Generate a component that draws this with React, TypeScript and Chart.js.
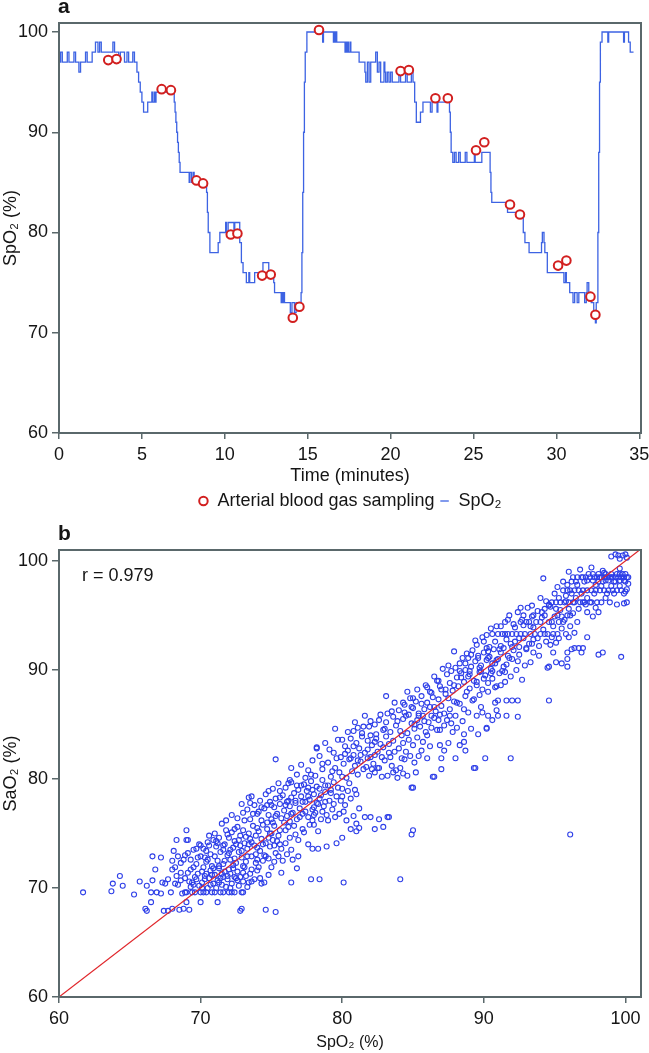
import React, { useEffect, useRef } from 'react';
import { Chart, registerables } from 'chart.js';
Chart.register(...registerables);

// ---------- Panel a data ----------
// SpO2 trace: [minute, SpO2 %] (each level holds until the next point)
const spo2Trace: [number, number][] = [
  [0,97],[0.1,98],[0.2,97],[0.5,98],[0.6,97],[0.9,98],[1.0,97],[1.2,96],[1.3,97],[1.6,98],[1.7,97],[2.0,98],
  [2.2,99],[2.35,98],[2.45,99],[2.55,98],[3.25,99],[3.35,98],[3.6,97],[3.7,98],[3.95,97],[4.1,98],[4.2,97],
  [4.45,98],[4.55,97],[4.7,96],[4.8,95],[4.9,94],[5.0,93],[5.1,92],[5.35,93],[5.6,94],[5.65,93],[5.75,94],
  [5.8,93],[5.85,94],[6.95,93],[7.0,92],[7.05,91],[7.1,90],[7.15,89],[7.2,88],[7.25,87],[7.3,86],[7.85,85],
  [7.9,86],[8.0,85],[8.1,86],[8.15,85],[8.9,84],[8.95,82],[9.0,80],[9.1,78],[9.6,79],[9.7,80],[10.05,81],
  [10.1,80],[10.2,81],[10.55,80],[10.6,81],[10.9,79],[11.0,77],[11.1,76],[11.3,75],[11.45,76],[11.5,75],
  [11.8,76],[12.3,77],[12.65,76],[12.95,75],[13.0,74],[13.4,73],[13.45,74],[13.5,73],[13.55,74],[13.6,73],
  [13.95,72],[14.05,73],[14.2,72],[14.3,73],[14.6,74],[14.65,78],[14.7,84],[14.75,90],[14.8,95],[14.85,98],
  [14.95,100],[15.9,99],[15.95,100],[16.55,99],[16.6,100],[16.65,99],[16.7,100],[16.75,99],[17.25,98],
  [17.3,99],[17.35,98],[17.4,99],[17.45,98],[17.55,99],[17.6,98],[18.1,97],[18.45,96],[18.5,95],[18.6,97],
  [18.7,95],[18.8,97],[19.1,98],[19.2,96],[19.3,97],[19.4,95],[19.6,97],[19.65,96],[19.7,95],[19.8,96],
  [19.9,95],[20.0,96],[20.1,95],[20.5,96],[20.6,95],[20.9,96],[21.0,95],[21.25,96],[21.35,95],[21.45,93],
  [21.55,91],[21.8,92],[21.95,93],[22.4,92],[22.5,93],[22.8,92],[22.85,93],[23.55,92],[23.6,90],[23.65,88],
  [23.75,87],[23.85,88],[23.95,87],[24.1,88],[24.2,87],[24.5,88],[24.6,87],[25.05,88],[25.1,87],[25.5,88],
  [26.0,86],[26.05,84],[26.1,83],[27.05,82],[28.0,80],[28.1,79],[28.35,78],[29.1,79],[29.15,80],[29.25,79],
  [29.3,78],[29.45,76],[30.45,75],[30.55,76],[30.6,75],[30.8,74],[31.0,73],[31.1,74],[31.25,73],[31.35,74],
  [31.7,73],[31.8,74],[31.85,75],[31.95,74],[32.1,73],[32.25,72],[32.35,71],[32.4,73],[32.5,80],[32.55,88],
  [32.6,95],[32.65,99],[32.75,100],[33.1,99],[33.15,100],[34.05,99],[34.1,100],[34.35,99],[34.45,98],[34.65,98]
];

// Arterial blood gas sampling moments: [minute, SpO2 %]
const bloodGasSamples: [number, number][] = [
  [2.97,97.2],[3.47,97.3],[6.19,94.3],[6.75,94.2],[8.29,85.2],[8.69,84.9],[10.36,79.8],[10.76,79.9],
  [12.25,75.7],[12.77,75.8],[14.1,71.5],[14.5,72.6],[15.68,100.2],[20.6,96.1],[21.1,96.2],[22.7,93.4],
  [23.45,93.4],[25.15,88.2],[25.65,89.0],[27.2,82.8],[27.8,81.8],[30.1,76.7],[30.6,77.2],[32.05,73.6],[32.35,71.8]
];

const timeTicks = [0, 5, 10, 15, 20, 25, 30, 35];
const spo2TicksA = [60, 70, 80, 90, 100];

// ---------- Panel b data: [SpO2 %, SaO2 %] ----------
const pairsBelow72: [number, number][] = [
  [61.7,69.6],[63.7,69.7],[63.8,70.4],[64.3,71.1],[64.5,70.2],[65.3,69.4],[65.7,70.6],[66.1,68.1],[66.2,67.9],
  [66.2,70.2],[66.5,68.7],[66.6,70.7],[66.8,71.7],[66.5,69.6],[66.9,69.6],[67.2,69.5],[67.3,70.5],[67.5,70.4],
  [67.7,70.8],[67.4,67.9],[67.7,67.9],[68.0,68.1],[67.9,69.6],[68.0,71.7],[68.2,71.9],[68.3,71.1],[68.4,70.3],
  [68.5,68.0],[68.6,70.7],[68.7,69.5],[68.8,68.1],[68.9,70.9],[69.0,68.7],[69.0,69.6],[69.1,71.4],[69.2,68.0],
  [69.3,70.1],[69.4,70.5],[69.5,71.9],[69.6,69.6],[69.7,70.8],[69.8,71.3],[69.9,70.2],[70.0,68.7],[70.0,69.6],
  [70.1,70.5],[70.2,71.9],[70.3,71.1],[70.4,69.6],[70.5,70.0],[70.6,70.9],[70.7,71.6],[70.8,69.6],[70.9,70.4],
  [71.0,71.2],[71.1,70.0],[71.2,68.7],[71.2,70.7],[71.3,71.8],[71.4,69.6],[71.5,70.3],[71.6,71.0],[71.7,71.5],
  [71.8,70.1],[71.9,70.8],[72.0,69.6],[72.1,71.3],[72.2,70.4],[72.3,71.8],[72.4,69.6],[72.5,70.9],[72.6,71.5],
  [72.8,67.9],[72.9,68.1],[72.9,69.6],[73.0,70.6],[73.1,71.9],[73.3,70.1],[73.5,71.3],[73.6,70.6],[73.8,70.8],
  [74.0,71.6],[74.3,70.4],[74.6,68.0],[74.5,70.5],[74.8,71.2],[75.3,67.8],[75.7,71.4],[76.4,70.5],[76.8,71.8],
  [77.8,70.8],[78.4,70.8],[80.1,70.5],[84.1,70.8],[69.2,70.6],[69.6,71.0],[70.1,70.0],[70.4,71.3],[70.9,71.8],
  [71.3,70.5],[71.9,71.1],[72.4,71.0],[72.7,70.2],[73.2,71.1],[68.9,69.6],[69.4,69.6],[71.0,69.6],[71.6,69.6],
  [72.2,69.6],[73.0,69.6]
];

const pairs72to76: [number, number][] = [
  [66.6,72.9],[67.2,72.8],[68.1,73.4],[68.0,72.5],[68.3,74.4],[69.0,74.4],[69.1,74.4],[68.6,72.3],[68.9,73.0],
  [69.3,72.6],[69.5,73.5],[69.7,72.2],[69.9,74.0],[70.0,72.9],[70.2,73.6],[70.4,72.4],[70.5,74.2],[70.7,73.1],
  [70.9,74.4],[70.8,72.0],[71.0,75.0],[71.1,73.8],[71.2,72.5],[71.3,74.6],[71.4,73.3],[71.5,75.9],[71.6,72.2],
  [71.7,74.0],[71.8,75.3],[71.9,73.0],[72.0,74.6],[72.1,72.6],[72.2,75.1],[72.3,73.7],[72.4,74.3],[72.5,72.3],
  [72.6,75.6],[72.7,73.3],[72.8,74.8],[72.9,72.8],[73.0,75.3],[73.1,74.1],[73.2,72.4],[73.3,73.6],[73.4,75.0],
  [73.5,74.5],[73.6,72.9],[73.7,75.7],[73.8,73.9],[73.9,74.8],[74.0,72.6],[74.1,75.2],[74.2,73.4],[74.3,74.5],
  [74.4,75.8],[74.5,73.0],[74.6,74.1],[74.7,75.4],[74.8,72.7],[74.9,73.8],[75.0,75.0],[75.1,74.4],[75.2,75.7],
  [75.3,73.2],[75.5,74.8],[75.6,75.3],[75.8,72.5],[76.0,74.1],[76.2,75.6],[76.4,73.5],[76.7,74.9],[76.9,72.9],
  [77.2,75.4],[77.6,74.0],[78.0,75.8],[78.3,73.6],[78.9,73.8],[77.9,73.6],[79.6,74.1],[80.0,74.6],[80.6,75.4],
  [81.0,75.2],[81.2,75.5],[81.0,75.9],[82.3,75.4],[82.9,75.6],[84.9,74.9],[85.0,75.3],[96.1,74.9],[70.3,72.8],
  [70.6,73.9],[71.2,74.1],[71.6,73.5],[72.0,73.2],[72.4,72.7],[72.8,73.9],[73.2,74.7],[73.6,74.2],[74.0,73.7],
  [74.4,72.5],[74.8,74.6],[75.2,73.9],[75.6,74.0],[76.1,73.1],[76.5,72.6],[73.0,72.0],[72.5,74.0]
];

const pairs76to80: [number, number][] = [
  [72.9,77.7],[73.4,78.3],[73.6,78.4],[72.6,76.4],[73.0,76.9],[73.3,77.2],[73.5,76.3],[73.8,77.6],[74.0,76.8],
  [74.2,78.0],[74.3,76.2],[74.5,77.3],[74.6,78.6],[74.8,76.7],[74.9,77.9],[75.0,76.3],[75.1,79.1],[75.2,77.4],
  [75.3,78.2],[75.4,76.8],[75.5,79.6],[75.6,77.7],[75.7,76.4],[75.8,78.5],[75.9,77.1],[76.0,79.2],[76.1,76.6],
  [76.2,78.0],[76.3,77.5],[76.4,79.7],[76.5,76.9],[76.6,78.7],[76.7,77.8],[76.8,76.3],[76.9,79.0],[77.0,77.3],
  [77.1,78.4],[77.2,76.8],[77.3,79.5],[77.4,77.9],[77.5,78.9],[77.6,76.5],[77.7,78.1],[77.8,79.8],[77.9,77.2],
  [78.0,78.6],[78.1,76.9],[78.2,79.3],[78.3,77.7],[78.4,78.2],[78.5,76.3],[78.6,79.9],[78.7,77.5],[78.8,78.8],
  [78.9,76.7],[79.0,79.4],[79.1,78.0],[79.3,77.2],[79.4,79.7],[79.6,78.4],[79.8,76.8],[80.0,79.1],[80.2,77.6],
  [80.5,79.6],[80.1,77.0],[80.6,78.2],[80.8,76.6],[81.2,77.3],[81.6,76.5],[82.0,76.5],[82.6,76.3],[83.2,76.5],
  [83.3,76.5],[81.0,78.6],[84.9,79.2],[85.0,79.2],[80.9,79.0],[74.1,77.0],[74.7,77.6],[75.1,76.0],[75.6,78.9],
  [76.0,77.6],[76.4,78.3],[76.8,79.4],[77.2,77.9],[77.6,79.2],[78.0,77.4],[78.4,79.1],[78.8,77.9],[79.2,78.7],
  [79.5,76.5],[76.3,76.1],[77.9,76.2],[79.9,78.0]
];

const pairs80to84: [number, number][] = [
  [75.3,81.8],[76.4,81.0],[76.3,79.9],[77.4,80.1],[78.2,82.9],[78.2,82.8],[76.8,80.4],[77.1,81.3],[77.6,80.8],
  [77.9,81.7],[78.1,80.3],[78.4,82.1],[78.6,80.9],[78.8,83.3],[79.0,81.5],[79.2,80.2],[79.4,82.4],[79.5,81.0],
  [79.7,83.6],[79.8,80.6],[79.9,82.0],[80.1,81.4],[80.2,83.0],[80.3,80.1],[80.4,82.6],[80.5,81.8],[80.6,83.7],
  [80.7,80.7],[80.8,82.2],[80.9,81.2],[81.0,83.3],[81.1,80.4],[81.2,82.8],[81.3,81.6],[81.4,83.9],[81.5,80.9],
  [81.6,82.4],[81.7,81.1],[81.8,83.5],[81.9,80.3],[82.0,82.0],[82.1,83.1],[82.2,81.4],[82.3,80.6],[82.4,83.7],
  [82.5,82.5],[82.6,81.0],[82.7,83.2],[82.8,80.2],[82.9,82.9],[83.0,81.7],[83.1,83.9],[83.2,80.3],[83.3,82.4],
  [83.5,81.2],[83.6,83.5],[83.8,80.8],[84.0,82.8],[84.1,81.0],[84.3,83.3],[84.6,80.3],[84.8,82.1],[85.1,81.5],
  [85.4,82.1],[85.7,83.4],[86.0,81.9],[86.4,80.2],[86.5,80.2],[86.9,83.1],[87.0,81.9],[87.0,80.9],[87.2,82.6],
  [88.0,81.9],[88.3,83.1],[88.7,82.6],[89.3,81.0],[89.4,81.0],[90.1,81.9],[91.9,81.9],[84.2,81.9],[83.9,80.1],
  [85.2,80.6],[79.3,80.7],[80.0,83.6],[81.8,82.7],[82.3,82.2],[83.4,82.0],[84.5,82.5],[80.6,81.9],[81.3,82.2]
];

const pairs84to88: [number, number][] = [
  [80.8,84.4],[81.1,84.7],[82.0,85.3],[82.3,85.0],[83.2,86.0],[83.7,87.0],[84.3,87.0],[84.8,87.4],[85.0,87.4],
  [81.4,84.2],[81.9,84.8],[82.4,84.1],[82.7,85.9],[82.9,84.5],[83.1,85.2],[83.4,84.3],[83.6,85.7],[83.8,84.9],
  [84.0,86.3],[84.1,84.4],[84.3,85.5],[84.4,86.8],[84.6,84.2],[84.7,85.9],[84.9,85.1],[85.0,86.5],[85.1,84.6],
  [85.2,87.1],[85.3,85.4],[85.4,86.0],[85.5,84.8],[85.6,87.6],[85.7,85.8],[85.8,86.4],[85.9,84.3],[86.0,87.0],
  [86.1,85.2],[86.2,86.6],[86.3,84.7],[86.4,87.5],[86.5,85.6],[86.6,86.2],[86.7,84.5],[86.8,87.3],[86.9,85.9],
  [87.0,86.7],[87.2,84.9],[87.3,87.8],[87.4,85.4],[87.6,86.4],[87.8,84.3],[87.9,87.1],[88.0,85.8],[88.1,84.7],
  [88.3,86.9],[88.5,85.3],[88.7,87.6],[88.9,86.1],[89.1,84.6],[89.3,87.3],[89.5,85.8],[89.8,86.6],[90.2,84.7],
  [90.2,84.6],[90.6,85.4],[90.8,87.0],[91.0,87.2],[91.6,85.8],[91.6,87.2],[92.0,87.2],[92.4,85.7],[92.4,87.2],
  [90.3,85.8],[91.0,85.8],[94.6,87.2],[88.6,84.1],[89.9,86.1],[86.3,85.8],[85.4,85.8],[87.6,85.8],[84.5,85.8]
];

const pairs88to92: [number, number][] = [
  [85.3,88.2],[86.0,88.4],[86.7,89.0],[86.8,89.0],[86.2,88.0],[86.5,89.4],[86.9,88.5],[87.1,90.1],[87.3,88.2],
  [87.4,89.6],[87.5,90.4],[87.6,88.8],[87.7,89.9],[87.8,88.1],[87.9,91.7],[88.0,90.2],[88.1,89.3],[88.2,88.5],
  [88.3,90.6],[88.4,89.7],[88.5,91.1],[88.6,88.9],[88.7,90.0],[88.8,91.5],[88.9,89.4],[89.0,88.3],[89.1,90.3],
  [89.2,91.8],[89.3,89.0],[89.4,90.8],[89.5,88.6],[89.6,91.3],[89.7,89.8],[89.8,90.4],[89.9,88.2],[90.0,91.6],
  [90.1,89.5],[90.2,90.9],[90.3,88.8],[90.4,91.2],[90.5,90.1],[90.6,89.2],[90.7,91.9],[90.8,90.6],[90.9,88.5],
  [91.0,91.0],[91.1,89.7],[91.2,91.6],[91.4,90.3],[91.5,88.9],[91.7,91.3],[91.9,89.4],[92.1,91.8],[92.3,90.0],
  [92.5,91.4],[92.7,89.1],[93.0,91.9],[93.3,90.7],[93.5,91.6],[94.5,90.2],[94.6,90.3],[95.1,90.7],[95.5,90.6],
  [95.9,91.0],[95.9,90.3],[95.9,91.6],[96.4,92.0],[96.9,91.6],[98.1,91.4],[98.4,91.6],[99.7,91.2],[89.0,89.9],
  [89.8,89.9],[90.6,89.9],[91.3,89.9],[88.3,89.9],[88.9,91.1],[89.6,91.1],[90.3,91.1],[91.8,91.1],[92.9,90.4]
];

const pairs92to96: [number, number][] = [
  [89.5,92.3],[89.9,93.0],[90.2,93.2],[90.4,92.1],[90.6,93.3],[90.8,92.6],[90.9,94.0],[91.0,93.3],[91.2,92.2],
  [91.3,93.3],[91.5,94.4],[91.6,92.8],[91.7,93.3],[91.8,95.0],[91.9,92.4],[92.0,93.3],[92.1,94.2],[92.2,92.6],
  [92.3,93.3],[92.4,95.3],[92.5,92.1],[92.6,93.3],[92.7,94.6],[92.8,92.9],[92.9,93.3],[93.0,94.4],[93.1,95.7],
  [93.2,92.4],[93.3,93.3],[93.4,94.9],[93.5,92.8],[93.6,93.3],[93.7,94.4],[93.8,95.4],[93.9,92.2],[94.0,93.3],
  [94.1,94.8],[94.2,93.7],[94.3,95.0],[94.4,92.6],[94.5,93.3],[94.6,94.4],[94.7,95.8],[94.8,93.0],[94.9,93.3],
  [95.0,94.9],[95.1,92.5],[95.2,93.3],[95.3,94.4],[95.4,95.5],[95.5,93.8],[95.7,94.6],[95.9,95.0],[96.1,94.0],
  [96.3,95.2],[96.6,94.4],[96.7,92.0],[97.0,92.0],[97.3,93.0],[96.4,93.4],[97.7,94.9],[98.1,95.3],[92.6,94.4],
  [93.2,94.4],[94.0,94.4],[94.8,94.4],[95.6,94.4],[91.5,93.3],[92.0,92.1],[92.8,95.0],[93.5,95.0],[94.3,95.6],
  [95.1,95.6],[96.0,95.6],[95.8,93.3],[96.0,93.0],[90.2,92.0],[91.1,91.9]
];

const pairsAbove96: [number, number][] = [
  [94.2,98.4],[94.4,96.3],[94.6,95.9],[94.8,96.2],[95.0,97.0],[95.1,96.2],[95.3,96.6],[95.4,96.2],[95.6,97.3],
  [95.7,96.2],[95.9,97.3],[95.8,96.8],[96.0,96.2],[96.1,97.3],[96.2,98.1],[96.3,96.2],[96.3,98.5],[96.4,97.3],
  [96.5,96.6],[96.6,98.5],[96.7,97.3],[96.8,96.2],[96.9,98.5],[97.0,97.3],[97.1,98.1],[97.1,96.2],[97.2,98.5],
  [97.3,97.3],[97.4,98.8],[97.5,96.2],[97.5,98.5],[97.6,97.3],[97.7,98.2],[97.8,98.5],[97.9,97.3],[98.0,96.2],
  [98.0,98.5],[98.1,98.8],[98.2,97.3],[98.3,98.5],[98.3,96.2],[98.4,98.1],[98.5,98.5],[98.5,97.3],[98.6,98.8],
  [98.7,98.5],[98.8,97.3],[98.8,98.2],[98.9,96.2],[98.9,98.5],[99.0,98.8],[99.1,97.3],[99.1,98.5],[99.2,98.1],
  [99.3,98.5],[99.4,97.3],[99.4,96.0],[99.4,98.8],[99.5,98.5],[99.6,98.2],[99.7,97.3],[99.7,98.5],[99.8,98.8],
  [99.9,98.5],[100.0,98.1],[100.0,98.8],[100.1,96.2],[100.1,98.5],[100.2,98.5],[99.0,100.4],[99.3,100.6],
  [99.6,100.2],[99.8,100.5],[100.0,100.6],[100.1,100.3],[99.5,100.5],[95.6,98.1],[96.0,99.0],[96.8,99.2],
  [97.6,99.4],[98.4,99.1],[95.2,97.6],[97.3,96.6],[98.6,96.6],[99.0,97.7],[96.6,97.8],[97.9,97.8],[100.1,97.4],
  [99.9,97.0],[97.2,96.0],[99.6,99.3]
];

// additional readings in the densest parts of the cloud
const pairsDenseLow: [number, number][] = [
  [68.2,70.4],[68.6,71.4],[68.8,72.6],[69.1,73.2],[69.3,71.7],[69.5,70.3],[69.8,72.8],[70.0,73.9],[70.1,71.5],
  [70.3,70.8],[70.5,72.6],[70.6,74.8],[70.8,71.2],[71.0,72.9],[71.1,74.3],[71.3,72.0],[71.4,70.9],[71.6,73.9],
  [71.7,72.5],[71.9,74.9],[72.0,71.7],[72.1,73.5],[72.3,72.1],[72.4,75.4],[72.6,70.7],[72.7,74.4],[72.9,73.4],
  [73.0,71.4],[73.1,76.2],[73.3,72.9],[73.4,74.0],[73.6,71.7],[73.7,76.8],[73.9,73.1],[74.0,75.5],[74.1,71.9],
  [74.3,77.4],[74.4,74.0],[74.6,72.9],[74.7,76.0],[74.9,75.0],[75.0,77.6],[75.2,72.4],[75.3,76.6],[75.4,74.3],
  [75.6,78.3],[75.7,73.6],[75.9,76.0],[76.0,75.3],[76.1,77.9],[76.3,74.6],[76.4,76.8],[76.6,75.7],[76.7,78.0],
  [76.9,74.4],[77.0,76.5],[77.1,79.4],[77.3,75.1],[77.4,77.0],[77.6,78.4],[77.7,75.8],[77.9,79.0],[78.0,76.7],
  [78.2,77.8],[78.3,75.2],[78.5,78.5],[78.6,77.0],[78.8,79.4],[79.0,76.2],[79.2,79.0],[79.4,77.7],[79.7,79.2],
  [80.0,78.4],[80.3,76.2],[80.4,78.9],[70.2,69.6],[70.7,70.3],[71.5,71.3],[72.1,70.0],[72.8,71.0],[73.4,70.5],
  [73.9,72.3],[74.2,70.9],[75.0,71.9],[75.5,72.9],[69.7,73.6],[70.4,73.4],[71.8,76.2],[72.2,76.7],[73.5,77.8],
  [74.8,78.9],[76.2,79.6],[77.8,80.4],[68.4,72.9],[69.0,75.3]
];

const pairsDenseMid: [number, number][] = [
  [78.6,81.4],[79.1,82.7],[79.6,81.9],[80.2,82.3],[80.4,84.3],[80.8,83.0],[81.1,81.7],[81.5,84.8],[81.8,81.9],
  [82.0,84.0],[82.3,83.4],[82.6,85.4],[82.8,82.0],[83.0,84.6],[83.3,83.2],[83.5,86.2],[83.7,82.5],[83.9,85.3],
  [84.2,84.0],[84.4,86.1],[84.7,83.6],[84.9,86.6],[85.1,85.0],[85.3,83.8],[85.6,86.9],[85.8,85.3],[86.0,84.0],
  [86.3,87.9],[86.5,86.6],[86.8,85.4],[87.0,88.2],[87.2,86.0],[87.5,87.4],[87.7,85.1],[87.9,88.6],[88.1,87.0],
  [88.4,89.3],[88.6,86.4],[88.8,88.0],[89.0,89.6],[89.2,87.2],[89.5,88.9],[89.7,87.7],[90.0,89.2],[90.3,88.0],
  [90.5,89.7],[90.8,88.4],[91.2,88.6],[91.5,89.8],[82.5,81.0],[83.6,80.6],[84.4,81.8],[85.6,82.6],[86.2,83.0],
  [87.5,83.3],[88.6,83.4],[86.9,84.5],[85.9,88.6],[84.6,88.0],[85.0,83.1],[81.6,85.8],[80.9,85.2],[79.5,84.6],
  [83.1,87.6],[89.6,84.1],[90.9,86.3],[82.1,80.9],[80.0,80.2],[84.3,80.5]
];

const pairsDenseHigh: [number, number][] = [
  [88.7,90.6],[89.1,91.4],[89.4,92.7],[89.7,90.2],[90.0,92.6],[90.3,91.7],[90.5,93.8],[90.9,90.9],[91.2,94.0],
  [91.4,92.0],[91.7,94.6],[92.0,91.0],[92.2,93.9],[92.5,92.9],[92.8,94.1],[93.0,92.0],[93.3,94.0],[93.5,93.9],
  [93.8,92.9],[94.1,95.3],[94.3,93.3],[94.6,96.0],[94.9,94.0],[95.2,95.0],[95.5,94.9],[95.8,96.3],[96.1,95.0],
  [96.4,96.2],[96.7,95.6],[97.0,96.2],[97.3,95.3],[97.6,96.2],[97.9,95.7],[98.2,98.5],[98.6,98.2],[99.0,98.5],
  [99.3,98.1],[99.6,98.8],[99.9,98.2],[96.5,98.1],[97.0,98.5],[97.3,98.2],[97.7,98.8],[98.1,98.1],[98.5,98.9],
  [95.9,97.8],[96.2,97.0],[96.9,97.0],[97.8,97.0],[98.3,97.7],[98.7,97.0],[99.2,97.0],[99.6,97.7],[100.0,97.2],
  [93.4,92.4],[94.7,92.3],[95.3,92.9],[92.4,90.8],[91.6,90.5],[90.6,90.6],[93.9,91.3],[96.2,91.9],[94.9,91.6],
  [99.9,96.1],[100.2,97.9],[94.0,96.6],[93.4,95.9],[92.6,95.7]
];

const identityEnds = [60, 101.1];
const saturationTicks = [60, 70, 80, 90, 100];
const correlationText = 'r = 0.979';

// ---------- styling ----------
const FONT = "'Liberation Sans', Arial, Helvetica, sans-serif";
const AXIS = '#5a686b';
const TEXT = '#151515';

const framePlugin = {
  id: 'frame',
  afterDatasetsDraw(chart: any) {
    const { ctx, chartArea } = chart;
    const { left, top, right, bottom } = chartArea;
    ctx.save();
    ctx.strokeStyle = AXIS;
    ctx.lineWidth = 2;
    ctx.strokeRect(left, top, right - left, bottom - top);
    ctx.restore();
  },
};

function makeLabelPlugin(id: string, letter: string, baseline: number, extra?: string) {
  return {
    id,
    afterDraw(chart: any) {
      const { ctx, chartArea } = chart;
      ctx.save();
      ctx.fillStyle = TEXT;
      ctx.font = `bold 21px ${FONT}`;
      ctx.textAlign = 'left';
      ctx.textBaseline = 'alphabetic';
      ctx.fillText(letter, 58, baseline);
      if (extra) {
        ctx.font = `18px ${FONT}`;
        ctx.textBaseline = 'middle';
        ctx.fillText(extra, chartArea.left + 23, chartArea.top + 26);
      }
      ctx.restore();
    },
  };
}

function axisBase(ticksList: number[], tickLen: number, pad: number) {
  return {
    type: 'linear' as const,
    afterBuildTicks: (s: any) => {
      s.ticks = ticksList.map((value) => ({ value }));
    },
    ticks: { font: { family: FONT, size: 18 }, color: TEXT, padding: pad, maxRotation: 0, autoSkip: false },
    grid: { display: true, drawOnChartArea: false, drawTicks: true, tickLength: tickLen, color: AXIS, lineWidth: 1.5 },
    border: { display: true, color: AXIS, width: 2 },
  };
}

export default function App() {
  const refA = useRef<HTMLCanvasElement>(null);
  const refB = useRef<HTMLCanvasElement>(null);

  useEffect(() => {
    Chart.defaults.font.family = FONT;

    const chartA = new Chart(refA.current as HTMLCanvasElement, {
      type: 'scatter',
      data: {
        datasets: [
          {
            label: 'Arterial blood gas sampling',
            data: bloodGasSamples.map(([x, y]) => ({ x, y })),
            pointStyle: 'circle',
            pointRadius: 4.3,
            borderWidth: 2,
            borderColor: '#d21f1f',
            backgroundColor: '#ffffff',
          },
          {
            label: 'SpO₂',
            data: spo2Trace.map(([x, y]) => ({ x, y })),
            showLine: true,
            stepped: true,
            pointRadius: 0,
            pointStyle: 'line',
            borderColor: '#3d63e3',
            backgroundColor: '#3d63e3',
            borderWidth: 1.3,
          },
        ],
      } as any,
      options: {
        responsive: false,
        animation: false,
        events: [],
        layout: { padding: { top: 23, right: 8, left: 0, bottom: 0 } },
        plugins: {
          legend: {
            display: true,
            position: 'bottom',
            fullSize: false,
            labels: {
              usePointStyle: true,
              boxHeight: 6,
              boxWidth: 10,
              padding: 5,
              color: TEXT,
              font: { family: FONT, size: 18 },
            },
          },
          tooltip: { enabled: false },
        },
        scales: {
          x: {
            ...axisBase(timeTicks, 6, 5),
            min: 0,
            max: 35.1,
            title: { display: true, text: 'Time (minutes)', color: TEXT, font: { family: FONT, size: 18 }, padding: { top: 0, bottom: 0 } },
            afterFit: (s: any) => { s.height = 54; s.paddingLeft = 0; s.paddingRight = 0; },
          },
          y: {
            ...axisBase(spo2TicksA, 7, 4),
            min: 60,
            max: 100.9,
            title: { display: true, text: 'SpO₂ (%)', color: TEXT, font: { family: FONT, size: 18 }, padding: { top: 0, bottom: 0 } },
            afterFit: (s: any) => { s.width = 59; s.paddingTop = 0; s.paddingBottom = 0; },
          },
        },
      } as any,
      plugins: [framePlugin, makeLabelPlugin('letterA', 'a', 13)],
    });

    const scatterPairs = [
      ...pairsBelow72, ...pairs72to76, ...pairs76to80, ...pairs80to84,
      ...pairs84to88, ...pairs88to92, ...pairs92to96, ...pairsAbove96,
      ...pairsDenseLow, ...pairsDenseMid, ...pairsDenseHigh,
    ];

    const chartB = new Chart(refB.current as HTMLCanvasElement, {
      type: 'scatter',
      data: {
        datasets: [
          {
            label: 'identity',
            data: identityEnds.map((v) => ({ x: v, y: v })),
            showLine: true,
            pointRadius: 0,
            borderColor: '#e0262b',
            borderWidth: 1.2,
          },
          {
            label: 'samples',
            data: scatterPairs.map(([x, y]) => ({ x, y })),
            pointStyle: 'circle',
            pointRadius: 2.5,
            borderWidth: 1.1,
            borderColor: '#2e3fe8',
            backgroundColor: 'rgba(255,255,255,0)',
          },
        ],
      } as any,
      options: {
        responsive: false,
        animation: false,
        events: [],
        layout: { padding: { top: 30, right: 8, left: 0, bottom: 0 } },
        plugins: { legend: { display: false }, tooltip: { enabled: false } },
        scales: {
          x: {
            ...axisBase(saturationTicks, 6, 5),
            min: 60,
            max: 101.1,
            title: { display: true, text: 'SpO₂ (%)', color: TEXT, font: { family: FONT, size: 16 }, padding: { top: 0, bottom: 1 } },
            afterFit: (s: any) => { s.height = 56; s.paddingLeft = 0; s.paddingRight = 0; },
          },
          y: {
            ...axisBase(saturationTicks, 7, 4),
            min: 60,
            max: 101.0,
            title: { display: true, text: 'SaO₂ (%)', color: TEXT, font: { family: FONT, size: 18 }, padding: { top: 0, bottom: 0 } },
            afterFit: (s: any) => { s.width = 59; s.paddingTop = 0; s.paddingBottom = 0; },
          },
        },
      } as any,
      plugins: [framePlugin, makeLabelPlugin('letterB', 'b', 20, correlationText)],
    });

    return () => {
      chartA.destroy();
      chartB.destroy();
    };
  }, []);

  return (
    <div style={{ position: 'absolute', left: 0, top: 0, width: 649, height: 1053, background: '#ffffff' }}>
      <canvas ref={refA} width={649} height={520} style={{ position: 'absolute', left: 0, top: 0, width: 649, height: 520 }} />
      <canvas ref={refB} width={649} height={533} style={{ position: 'absolute', left: 0, top: 520, width: 649, height: 533 }} />
    </div>
  );
}
